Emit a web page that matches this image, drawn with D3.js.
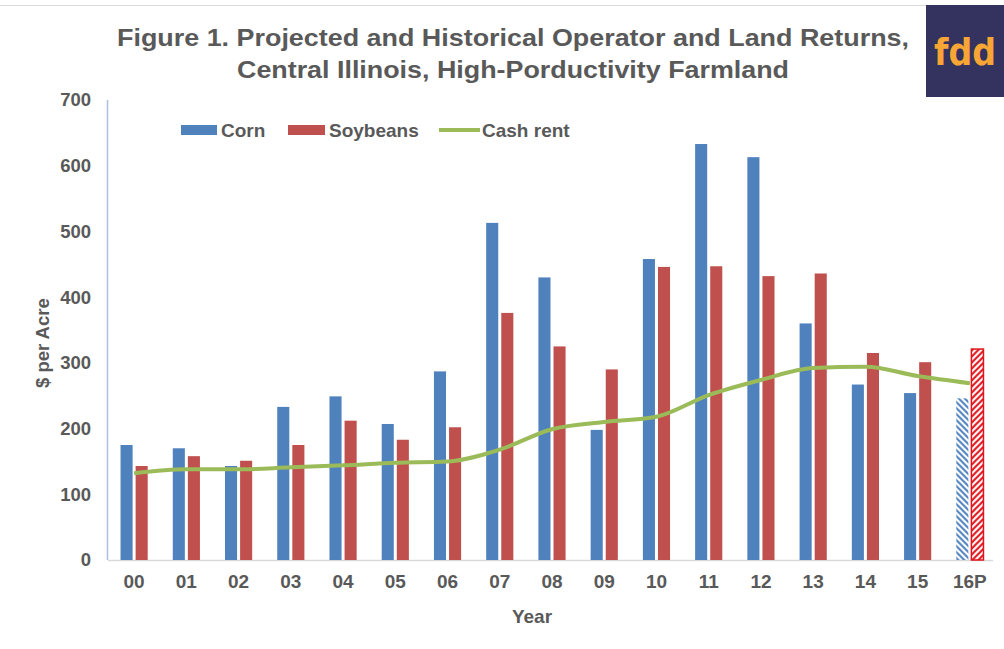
<!DOCTYPE html>
<html>
<head>
<meta charset="utf-8">
<script src="https://cdn.jsdelivr.net/npm/d3@7"></script>
<style>
	body { margin: 0; background: #fff; }
	svg { font-family: "Liberation Sans", Arial, sans-serif; }
</style>
</head>
<body>
<svg id="chart" width="1004" height="649"></svg>
<script>
var years = ["00", "01", "02", "03", "04", "05", "06", "07", "08", "09", "10", "11", "12", "13", "14", "15", "16P"];
var corn = [175, 170, 143, 233, 249, 207, 287, 513, 430, 198, 458, 633, 613, 360, 267, 254, 246];
var soybeans = [143, 158, 151, 175, 212, 183, 202, 376, 325, 290, 446, 447, 432, 436, 315, 301, 321];
var cashRent = [132, 138, 138, 141, 144, 148, 150, 168, 199, 210, 218, 251, 274, 292, 294, 280, 269];
var yTicks = [0, 100, 200, 300, 400, 500, 600, 700];
var projected = "16P";

var svg = d3.select("svg#chart"),
	margin = { top: 100, right: 8, bottom: 89, left: 108 },
	width = 1004,
	height = 649,
	grey = "#595959";

var x = d3.scaleBand()
	.domain(years)
	.range([margin.left, width - margin.right])
	.paddingInner(0.48)
	.paddingOuter(0.24);

var xs = d3.scaleBand()
	.domain(["corn", "soy"])
	.range([0, x.bandwidth()])
	.paddingInner(0.2);

var y = d3.scaleLinear()
	.domain([0, 700])
	.range([height - margin.bottom, margin.top]);

// hatch patterns for the projected year
var defs = svg.append("defs");
defs.append("pattern")
	.attr("id", "hatchCorn")
	.attr("patternUnits", "userSpaceOnUse")
	.attr("width", 6).attr("height", 6)
	.append("path")
	.attr("d", "M-1,-1 L7,7 M-1,5 L1,7 M5,-1 L7,1")
	.attr("stroke", "#4f81bd")
	.attr("stroke-width", 2);
defs.append("pattern")
	.attr("id", "hatchSoy")
	.attr("patternUnits", "userSpaceOnUse")
	.attr("width", 6).attr("height", 6)
	.append("path")
	.attr("d", "M-1,7 L7,-1 M-1,1 L1,-1 M5,7 L7,5")
	.attr("stroke", "#e0141b")
	.attr("stroke-width", 2);

// thin chart border at top
svg.append("line")
	.attr("x1", 0).attr("x2", 926)
	.attr("y1", 5.5).attr("y2", 5.5)
	.attr("stroke", "#d9d9d9");

// title
var title = svg.append("g")
	.attr("fill", grey)
	.attr("font-weight", "bold")
	.attr("font-size", "24px")
	.attr("text-anchor", "middle");
title.append("text")
	.attr("x", 513).attr("y", 46)
	.attr("textLength", 792)
	.attr("lengthAdjust", "spacingAndGlyphs")
	.text("Figure 1. Projected and Historical Operator and Land Returns,");
title.append("text")
	.attr("x", 513).attr("y", 78)
	.attr("textLength", 552)
	.attr("lengthAdjust", "spacingAndGlyphs")
	.text("Central Illinois, High-Porductivity Farmland");

// fdd logo
svg.append("rect")
	.attr("x", 926).attr("y", 5)
	.attr("width", 78).attr("height", 92)
	.attr("fill", "#34325e");
svg.append("text")
	.attr("x", 965).attr("y", 65)
	.attr("text-anchor", "middle")
	.attr("font-size", "38px")
	.attr("font-weight", "bold")
	.attr("font-family", "'DejaVu Sans', sans-serif")
	.attr("fill", "#f7a535")
	.attr("textLength", 62)
	.attr("lengthAdjust", "spacingAndGlyphs")
	.text("fdd");

// axes
svg.append("line")
	.attr("x1", margin.left).attr("x2", width - margin.right - 3)
	.attr("y1", y(0) + 0.5).attr("y2", y(0) + 0.5)
	.attr("stroke", "#d9d9d9")
	.attr("stroke-width", 1.5);
svg.append("line")
	.attr("x1", margin.left - 0.5).attr("x2", margin.left - 0.5)
	.attr("y1", y(700)).attr("y2", y(0))
	.attr("stroke", "#a9c0de")
	.attr("stroke-width", 1.5);

var yAxis = svg.append("g")
	.attr("transform", "translate(" + (margin.left - 17) + ",0)")
	.call(d3.axisLeft(y).tickValues(yTicks).tickSize(0).tickPadding(0));
yAxis.select(".domain").remove();
yAxis.selectAll("text")
	.attr("fill", grey)
	.attr("font-size", "18.5px")
	.attr("font-weight", "bold")
	.attr("font-family", "'Liberation Sans', Arial, sans-serif");

var xAxis = svg.append("g")
	.attr("transform", "translate(0," + (y(0) + 14) + ")")
	.call(d3.axisBottom(x).tickSize(0).tickPadding(0));
xAxis.select(".domain").remove();
xAxis.selectAll("text")
	.attr("fill", grey)
	.attr("font-size", "19px")
	.attr("font-weight", "bold")
	.attr("font-family", "'Liberation Sans', Arial, sans-serif");

svg.append("text")
	.attr("x", 532).attr("y", 623)
	.attr("text-anchor", "middle")
	.attr("fill", grey)
	.attr("font-size", "19px")
	.attr("font-weight", "bold")
	.text("Year");

svg.append("text")
	.attr("transform", "translate(49," + y(330) + ") rotate(-90)")
	.attr("text-anchor", "middle")
	.attr("fill", grey)
	.attr("font-size", "18.5px")
	.attr("font-weight", "bold")
	.text("$ per Acre");

// bars
var data = years.map(function(d, i) {
	return { year: d, corn: corn[i], soy: soybeans[i], rent: cashRent[i] };
});

var g = svg.append("g").selectAll(".year")
	.data(data)
	.enter().append("g")
	.attr("class", "year")
	.attr("transform", function(d) {
		return "translate(" + x(d.year) + ",0)";
	});

g.append("rect")
	.attr("x", xs("corn"))
	.attr("width", xs.bandwidth())
	.attr("y", function(d) { return y(d.corn); })
	.attr("height", function(d) { return y(0) - y(d.corn); })
	.attr("fill", function(d) {
		return d.year === projected ? "url(#hatchCorn)" : "#4f81bd";
	});

g.append("rect")
	.attr("x", xs("soy"))
	.attr("width", xs.bandwidth())
	.attr("y", function(d) { return y(d.soy); })
	.attr("height", function(d) { return y(0) - y(d.soy); })
	.attr("fill", function(d) {
		return d.year === projected ? "url(#hatchSoy)" : "#c0504d";
	})
	.attr("stroke", function(d) {
		return d.year === projected ? "#e0141b" : "none";
	})
	.attr("stroke-width", 1.5);

// cash rent line
var line = d3.line()
	.x(function(d) { return x(d.year) + x.bandwidth() / 2; })
	.y(function(d) { return y(d.rent); })
	.curve(d3.curveMonotoneX);

svg.append("path")
	.datum(data)
	.attr("d", line)
	.attr("fill", "none")
	.attr("stroke", "#9bbb59")
	.attr("stroke-width", 4)
	.attr("stroke-linejoin", "round");

// legend
var legend = svg.append("g")
	.attr("font-size", "19px")
	.attr("font-weight", "bold")
	.attr("fill", grey);
legend.append("rect")
	.attr("x", 181).attr("y", 125)
	.attr("width", 36).attr("height", 10)
	.attr("fill", "#4f81bd");
legend.append("text")
	.attr("x", 221).attr("y", 137)
	.text("Corn");
legend.append("rect")
	.attr("x", 288).attr("y", 125)
	.attr("width", 37).attr("height", 10)
	.attr("fill", "#c0504d");
legend.append("text")
	.attr("x", 329).attr("y", 137)
	.text("Soybeans");
legend.append("line")
	.attr("x1", 439).attr("x2", 480)
	.attr("y1", 130).attr("y2", 130)
	.attr("stroke", "#9bbb59")
	.attr("stroke-width", 4);
legend.append("text")
	.attr("x", 482).attr("y", 137)
	.text("Cash rent");
</script>
</body>
</html>
